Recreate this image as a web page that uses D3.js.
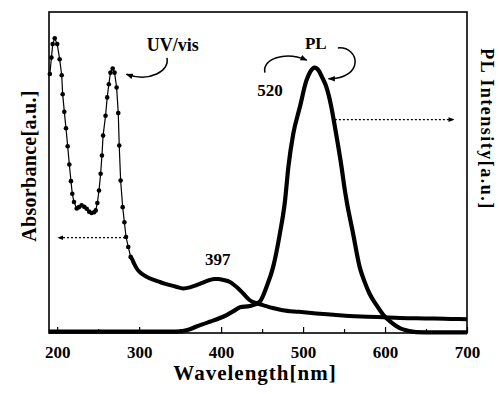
<!DOCTYPE html>
<html>
<head>
<meta charset="utf-8">
<script src="https://cdn.jsdelivr.net/npm/d3@7/dist/d3.min.js"></script>
<style>
  html, body { margin: 0; padding: 0; background: #fff; }
  svg { display: block; }
  text { font-family: "Liberation Serif", "Times New Roman", serif; font-weight: bold; fill: #000; }
</style>
</head>
<body>
<svg id="chart" width="499" height="394"></svg>
<script>
// ---- Data ----
// UV/vis absorbance, short-wavelength part measured with markers
const uvDotWl  = [191, 193, 194.5, 197, 200, 203, 205.5, 206.7, 208.7, 210.7, 212.8, 214.8, 216.8, 218.4, 220.5, 223.8, 226.5, 229.8, 233, 236, 239, 242, 245, 247, 249, 251, 253, 254.6, 256, 259, 261, 263, 265, 267.7, 270, 272.5, 274.5, 275.7, 277.4, 279.9, 282, 284, 286.7, 289.6];
const uvDotAbs = [0.807, 0.858, 0.90, 0.918, 0.90, 0.853, 0.803, 0.744, 0.689, 0.638, 0.582, 0.525, 0.473, 0.434, 0.408, 0.388, 0.392, 0.398, 0.393, 0.387, 0.378, 0.374, 0.376, 0.382, 0.405, 0.444, 0.496, 0.553, 0.615, 0.677, 0.734, 0.775, 0.811, 0.824, 0.811, 0.765, 0.685, 0.584, 0.475, 0.392, 0.345, 0.299, 0.268, 0.237];
// UV/vis absorbance, long-wavelength part (continuous thick line)
const uvWl  = [289.6, 291, 294, 297, 302, 309, 317, 325, 331, 337.6, 345, 353.8, 362, 370, 378, 386, 392, 396.5, 403, 410.7, 419, 427, 435, 443, 451, 463, 475, 495, 516, 537, 557, 578, 598, 618, 638, 660, 680, 700];
const uvAbs = [0.237, 0.232, 0.215, 0.201, 0.187, 0.175, 0.166, 0.159, 0.154, 0.149, 0.144, 0.139, 0.142, 0.149, 0.157, 0.165, 0.168, 0.168, 0.165, 0.159, 0.143, 0.123, 0.102, 0.093, 0.087, 0.078, 0.071, 0.066, 0.061, 0.057, 0.053, 0.051, 0.049, 0.047, 0.046, 0.045, 0.044, 0.043];
// PL emission intensity
const plWl  = [190, 250, 300, 340, 350, 360, 370, 386, 397, 406.7, 415, 423, 435, 447, 455.5, 463.5, 471.7, 478, 482, 488, 496, 504, 509, 514, 519, 523, 528.6, 534, 539, 547, 551, 553, 561, 569, 575, 581, 590, 598, 608, 618, 628, 638, 660, 680, 700];
const plInt = [0.004, 0.004, 0.004, 0.004, 0.005, 0.01, 0.02, 0.035, 0.045, 0.056, 0.068, 0.08, 0.084, 0.097, 0.144, 0.206, 0.31, 0.413, 0.516, 0.62, 0.703, 0.786, 0.815, 0.827, 0.818, 0.798, 0.765, 0.71, 0.64, 0.516, 0.444, 0.413, 0.31, 0.206, 0.16, 0.123, 0.085, 0.056, 0.032, 0.015, 0.007, 0.003, 0.002, 0.002, 0.002];

// axis ticks
const majorTicks = [200, 300, 400, 500, 600, 700];
const minorTicks = [250, 350, 450, 550, 650];

// labels
const xTitle = "Wavelength[nm]";
const yTitleLeft = "Absorbance[a.u.]";
const yTitleRight = "PL Intensity[a.u.]";

// annotations (in data units: [wavelength, relative value])
const annoText = [
  { t: "UV/vis", p: [341, 0.879], size: 18 },
  { t: "PL",     p: [515.6, 0.885], size: 17 },
  { t: "520",    p: [459.5, 0.739], size: 17 },
  { t: "397",    p: [396, 0.211], size: 17 }
];
const curvedArrows = [
  [[333.9, 0.857], [337.6, 0.817], [313.2, 0.780], [284.5, 0.806]],
  [[453.4, 0.811], [449.8, 0.854], [477.8, 0.879], [504.5, 0.850]],
  [[542.4, 0.888], [569.3, 0.894], [575.4, 0.792], [531.0, 0.792]]
];
const dottedArrows = [
  [[282.7, 0.297], [201, 0.297]],
  [[538.8, 0.665], [684, 0.665]]
];

// ---- Drawing ----
const svg = d3.select("#chart");
const margin = { left: 49, right: 32, top: 12, bottom: 61 };
const W = 499, H = 394;
const x = d3.scaleLinear().domain([190, 700]).range([margin.left, W - margin.right]);
const yAbs = d3.scaleLinear().domain([0, 1]).range([H - margin.bottom, margin.top]);
const yPL = d3.scaleLinear().domain([0, 1]).range([H - margin.bottom, margin.top]);

const x0 = x.range()[0], x1 = x.range()[1];
const yb = yAbs.range()[0], yt = yAbs.range()[1];

// markers
const defs = svg.append("defs");
defs.append("marker").attr("id", "ah").attr("viewBox", "0 0 10 10")
  .attr("refX", 9).attr("refY", 5).attr("markerWidth", 7).attr("markerHeight", 7)
  .attr("markerUnits", "userSpaceOnUse").attr("orient", "auto")
  .append("path").attr("d", "M0,1 L10,5 L0,9 Z").attr("fill", "#000");
defs.append("marker").attr("id", "ahs").attr("viewBox", "0 0 10 10")
  .attr("refX", 9).attr("refY", 5).attr("markerWidth", 6).attr("markerHeight", 6)
  .attr("markerUnits", "userSpaceOnUse").attr("orient", "auto")
  .append("path").attr("d", "M0,1 L10,5 L0,9 Z").attr("fill", "#000");

// frame
svg.append("rect").attr("x", x0).attr("y", yt).attr("width", x1 - x0).attr("height", yb - yt)
  .attr("fill", "none").attr("stroke", "#000").attr("stroke-width", 1.6);

// bottom axis ticks (inward) and labels
const xAxis = d3.axisBottom(x).tickValues(majorTicks).tickSize(-6).tickPadding(13).tickFormat(d3.format("d"));
const gx = svg.append("g").attr("transform", `translate(0,${yb})`).call(xAxis);
gx.select(".domain").remove();
gx.selectAll("line").attr("stroke", "#000").attr("stroke-width", 1.2);
gx.selectAll("text").style("font-size", "17px").style("font-family", "Liberation Serif, serif").style("font-weight", "bold").attr("fill", "#000");
const gxm = svg.append("g").attr("transform", `translate(0,${yb})`)
  .call(d3.axisBottom(x).tickValues(minorTicks).tickSize(-4).tickFormat(""));
gxm.select(".domain").remove();
gxm.selectAll("line").attr("stroke", "#000").attr("stroke-width", 1.2);

// UV/vis thin line with dots
const lineUvDot = d3.line().x((d, i) => x(uvDotWl[i])).y((d, i) => yAbs(uvDotAbs[i]));
svg.append("path").attr("d", lineUvDot(uvDotWl)).attr("fill", "none").attr("stroke", "#000").attr("stroke-width", 1.2);
svg.append("g").selectAll("circle").data(uvDotWl).join("circle")
  .attr("cx", (d) => x(d)).attr("cy", (d, i) => yAbs(uvDotAbs[i])).attr("r", 2.3).attr("fill", "#000");

// UV/vis thick line
const lineUv = d3.line().curve(d3.curveMonotoneX).x((d, i) => x(uvWl[i])).y((d, i) => yAbs(uvAbs[i]));
svg.append("path").attr("d", lineUv(uvWl)).attr("fill", "none").attr("stroke", "#000").attr("stroke-width", 4).attr("stroke-linejoin", "round");

// PL line
const linePl = d3.line().curve(d3.curveMonotoneX).x((d, i) => x(plWl[i])).y((d, i) => yPL(plInt[i]));
svg.append("path").attr("d", linePl(plWl)).attr("fill", "none").attr("stroke", "#000").attr("stroke-width", 4.2).attr("stroke-linejoin", "round");

// dotted arrows
dottedArrows.forEach(a => {
  svg.append("line")
    .attr("x1", x(a[0][0])).attr("y1", yAbs(a[0][1]))
    .attr("x2", x(a[1][0])).attr("y2", yAbs(a[1][1]))
    .attr("stroke", "#000").attr("stroke-width", 1.3).attr("stroke-dasharray", "2,2")
    .attr("marker-end", "url(#ahs)");
});

// curved arrows
curvedArrows.forEach(c => {
  const p = d3.path();
  p.moveTo(x(c[0][0]), yAbs(c[0][1]));
  p.bezierCurveTo(x(c[1][0]), yAbs(c[1][1]), x(c[2][0]), yAbs(c[2][1]), x(c[3][0]), yAbs(c[3][1]));
  svg.append("path").attr("d", p.toString()).attr("fill", "none").attr("stroke", "#000")
    .attr("stroke-width", 1.5).attr("marker-end", "url(#ah)");
});

// annotation text
annoText.forEach(a => {
  svg.append("text").attr("x", x(a.p[0])).attr("y", yAbs(a.p[1]))
    .attr("text-anchor", "middle").style("font-size", a.size + "px").text(a.t);
});

// axis titles
svg.append("text").attr("x", 255).attr("y", 380).attr("text-anchor", "middle")
  .style("font-size", "21px").style("letter-spacing", "1px").text(xTitle);
svg.append("text").attr("transform", "translate(36,166) rotate(-90)").attr("text-anchor", "middle")
  .style("font-size", "20px").style("letter-spacing", "0.3px").text(yTitleLeft);
svg.append("text").attr("transform", "translate(481,129) rotate(90)").attr("text-anchor", "middle")
  .style("font-size", "18px").style("letter-spacing", "1.5px").text(yTitleRight);
</script>
</body>
</html>
